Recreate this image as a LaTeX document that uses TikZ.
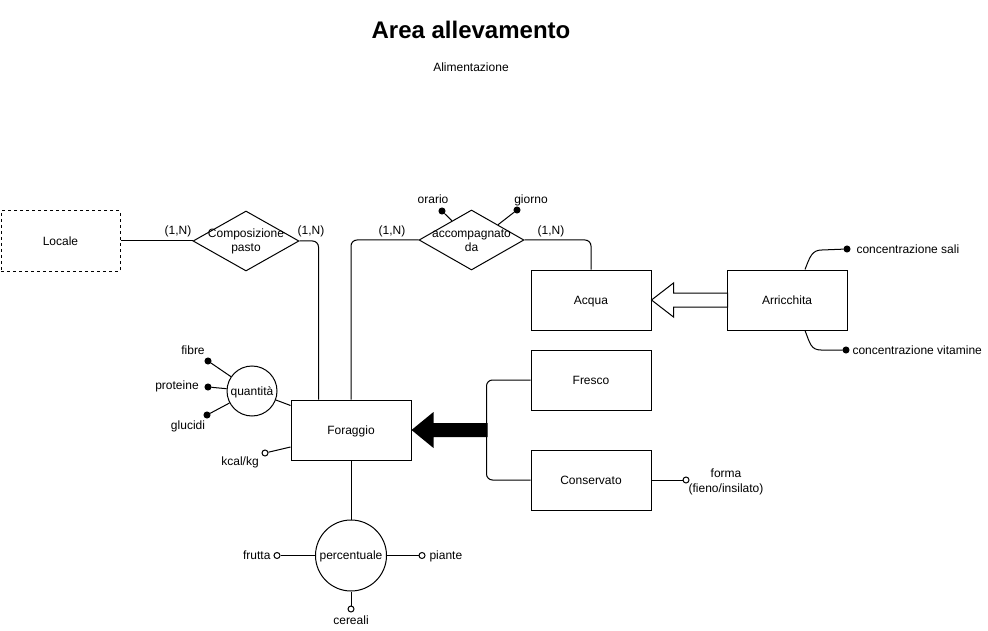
\documentclass[tikz,border=0pt]{standalone}
\usepackage{fontspec}
\setmainfont{Liberation Sans}
\usetikzlibrary{shapes.geometric,calc}
\newcommand\fs{\fontsize{12}{14.5}\selectfont}
\begin{document}
\begin{tikzpicture}[x=1pt,y=-1pt, line width=1pt,
  ent/.style={draw, minimum width=120pt, minimum height=60pt, inner sep=0pt, font=\fs, text height=8.6pt, text depth=0pt},
  rel/.style={draw, diamond, minimum width=106pt, minimum height=60pt, inner sep=0pt},
  attr/.style={draw, circle, inner sep=0pt, font=\fs, text height=8.6pt, text depth=0pt},
  dotf/.style={draw, circle, fill=black, minimum size=6pt, inner sep=0pt},
  doto/.style={draw, circle, fill=white, minimum size=6pt, inner sep=0pt},
  lbl/.style={font=\fs, inner sep=0pt, text height=8.6pt, text depth=0pt},
  mlbl/.style={font=\fs, inner sep=0pt, align=center},
  conn/.style={draw, rounded corners=6pt}]
\useasboundingbox (0,0) rectangle (988,631);

% titles
\node[font=\fontsize{24}{28}\selectfont\bfseries, inner sep=0pt] (title) at (471,30) {Area allevamento};
\node[lbl] (sub) at (471,67) {Alimentazione};

% entities
\node[ent, dashed, dash pattern=on 3pt off 3pt, minimum width=119pt] (loc) at (60.5,241) {Locale};
\node[ent] (forag) at (351,430) {Foraggio};
\node[ent] (acq) at (591,300) {Acqua};
\node[ent] (arr) at (787,300) {Arricchita};
\node[ent] (fre) at (591,380) {Fresco};
\node[ent] (con) at (591,480) {Conservato};

% relationships
\node[rel] (cp) at (246,241) {};
\node[mlbl] (cpt) at ($(cp)+(0,0.5)$) {Composizione\\pasto};
\node[rel, minimum width=105pt] (acc) at (471.5,240) {};
\node[mlbl] (acct) at ($(acc)+(0,0.5)$) {accompagnato\\da};

% relationship connectors
\draw (loc.east) -- (cp.west);
\draw[conn] (cp.east) -| ($(forag.north west)+(28,0)$);
\draw[conn] (acc.west) -| (forag.north);
\draw[conn] (acc.east) -| (acq.north);
\node[lbl] (c1) at (178,230) {(1,N)};
\node[lbl] (c2) at (311,230) {(1,N)};
\node[lbl] (c3) at (392,230) {(1,N)};
\node[lbl] (c4) at (551,230) {(1,N)};

% accompagnato attributes
\node[dotf] (or) at (442,211) {};
\node[dotf] (gi) at (517,210) {};
\draw (or) -- ($(acc.west)!0.63!(acc.north)$);
\draw (gi) -- ($(acc.north)!0.5!(acc.east)$);
\node[lbl] (ort) at (433,199) {orario};
\node[lbl] (git) at (531,199) {giorno};

% generalization Acqua <- Arricchita (hollow arrow)
\draw[fill=white] (acq.east) -- ++(22,-17) -- ++(0,10) -- ++(54,0) -- ++(0,14) -- ++(-54,0) -- ++(0,10) -- cycle;

% Arricchita attributes
\node[dotf] (cs) at (847,249) {};
\node[dotf] (cv) at (846,350) {};
\draw ($(arr.north)+(18,0)$) .. controls +(5,-13) and +(-10,0) .. ($(cs)+(-25,1)$) -- (cs);
\draw ($(arr.south)+(18,0)$) .. controls +(5,13) and +(-10,0) .. ($(cv)+(-25,0)$) -- (cv);
\node[lbl, anchor=west] (cst) at (856,249) {concentrazione sali};
\node[lbl, anchor=west] (cvt) at (852,350) {concentrazione vitamine};

% generalization Foraggio <- Fresco / Conservato (filled arrow)
\draw[conn] (fre.west) -| ($(con.west)+(-44,0)$) -- (con.west);
\fill (forag.east) -- ++(22,-18) -- ++(0,11) -- ++(54,0) -- ++(0,14) -- ++(-54,0) -- ++(0,11) -- cycle;

% Conservato attribute
\node[doto] (fo) at (686,480) {};
\draw (con.east) -- (fo);
\node[mlbl] (fot) at (726,482) {forma\\(fieno/insilato)};

% quantita composite attribute
\node[attr, minimum size=50pt] (q) at (252,391) {quantità};
\draw (q) -- ($(forag.north west)+(0,6)$);
\node[dotf] (fib) at (208,361) {};
\node[dotf] (pro) at (208,387) {};
\node[dotf] (glu) at (207,415) {};
\draw (q) -- (fib);
\draw (q) -- (pro);
\draw (q) -- (glu);
\node[lbl] (fibt) at (193,350) {fibre};
\node[lbl] (prot) at (177,385) {proteine};
\node[lbl] (glut) at (188,425) {glucidi};

% kcal/kg
\node[doto] (kc) at (265,453) {};
\draw (kc) -- ($(forag.west)+(0,17)$);
\node[lbl] (kct) at (240,461) {kcal/kg};

% percentuale composite attribute
\node[attr, minimum size=71pt] (perc) at (351,555.5) {percentuale};
\draw (forag.south) -- (perc);
\node[doto] (fr) at (277,555.5) {};
\node[doto] (pi) at (422,555.5) {};
\node[doto] (ce) at (351,609) {};
\draw (perc) -- (fr);
\draw (perc) -- (pi);
\draw (perc) -- (ce);
\node[lbl, anchor=east] (frt) at (271,555) {frutta};
\node[lbl, anchor=west] (pit) at (429,555) {piante};
\node[lbl] (cet) at (351,620) {cereali};
\end{tikzpicture}
\end{document}
